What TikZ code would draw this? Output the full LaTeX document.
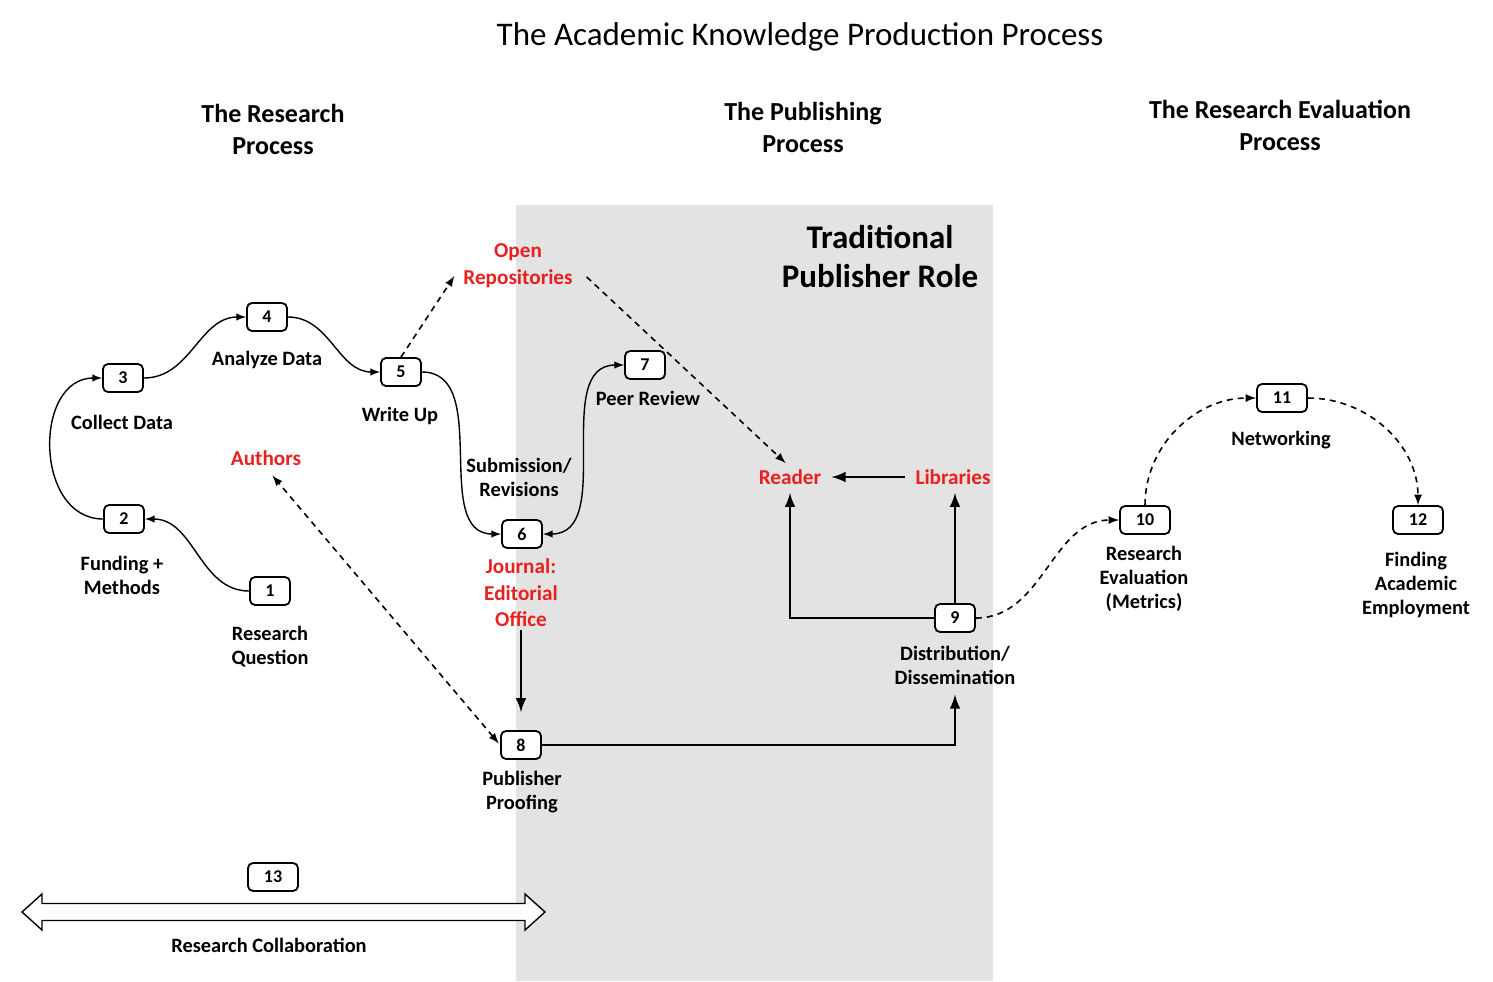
\documentclass[tikz,border=0pt]{standalone}
\usepackage{fontspec}
\setmainfont{Carlito}
\usetikzlibrary{positioning,arrows,calc}
\definecolor{publishergray}{HTML}{E3E3E3}
\definecolor{actorred}{HTML}{E82020}

\begin{document}
\begin{tikzpicture}[x=0.5pt, y=-0.5pt, >=latex,
  stepbox/.style={draw, rounded corners=2.5pt, fill=white, line width=0.9pt, minimum width=20pt, minimum height=14pt, inner sep=1pt, font=\bfseries\fontsize{9}{10}\selectfont},
  lbl/.style={align=center, inner sep=1pt, font=\bfseries\fontsize{10.2}{12}\selectfont},
  actor/.style={align=center, inner sep=1pt, text=actorred, font=\bfseries\fontsize{10.6}{13.3}\selectfont},
  phase/.style={align=center, font=\bfseries\fontsize{13}{16}\selectfont},
  flow/.style={->, line width=0.7pt},
  heavyflow/.style={->, line width=1.4pt},
  dashflow/.style={->, line width=0.8pt, dash pattern=on 3pt off 2.5pt}]
\useasboundingbox (0,0) rectangle (1493,981);
\fill[publishergray] (516,205) rectangle (993,981);

\node[font=\fontsize{16.5}{19}\selectfont] (title) at (800,37) {The Academic Knowledge Production Process};
\node[phase] (research) at (273,129) {The Research\\Process};
\node[phase] (publishing) at (803,127) {The Publishing\\Process};
\node[phase] (evaluation) at (1280,125) {The Research Evaluation\\Process};
\node[align=center, font=\bfseries\fontsize{16.5}{19.5}\selectfont] (role) at (880,257) {Traditional\\Publisher Role};

\node[stepbox] (s1) at (270,591) {1};
\node[stepbox] (s2) at (124,519) {2};
\node[stepbox] (s3) at (123,378) {3};
\node[stepbox] (s4) at (267,317) {4};
\node[stepbox] (s5) at (401,372) {5};
\node[stepbox] (s6) at (522,534) {6};
\node[stepbox] (s7) at (645,365) {7};
\node[stepbox] (s8) at (521,745) {8};
\node[stepbox] (s9) at (955,618) {9};
\node[stepbox, minimum width=25pt] (s10) at (1145,520) {10};
\node[stepbox, minimum width=25pt] (s11) at (1282,398) {11};
\node[stepbox, minimum width=25pt] (s12) at (1418,520) {12};
\node[stepbox, minimum width=25pt] (s13) at (273,877) {13};

\node[lbl] (l1) at (270,647) {Research\\Question};
\node[lbl] (l2) at (122,575) {Funding +\\Methods};
\node[lbl] (l3) at (122,422) {Collect Data};
\node[lbl] (l4) at (267,360) {Analyze Data};
\node[lbl] (l5) at (400,416) {Write Up};
\node[lbl] (lsub) at (519,477) {Submission/\\Revisions};
\node[lbl] (l7) at (648,398) {Peer Review};
\node[actor] (l6) at (521,593) {Journal:\\Editorial\\Office};
\node[lbl] (l8) at (522,792) {Publisher\\Proofing};
\node[lbl] (l9) at (955,665) {Distribution/\\Dissemination};
\node[lbl] (l10) at (1144,579) {Research\\Evaluation\\(Metrics)};
\node[lbl] (l11) at (1281,440) {Networking};
\node[lbl] (l12) at (1416,585) {Finding\\Academic\\Employment};
\node[lbl] (l13) at (269,945) {Research Collaboration};

\node[actor] (authors) at (266,458) {Authors};
\node[actor] (repos) at (518,266) {Open\\Repositories};
\node[actor] (reader) at (790,477) {Reader};
\node[actor] (libraries) at (953,477) {Libraries};

\path[flow]
(s1.west) edge[out=180, in=0] (s2.east)
(s2.west) edge[out=180, in=180, looseness=1.25] (s3.west)
(s3.east) edge[out=0, in=180] (s4.west)
(s4.east) edge[out=0, in=180] (s5.west)
(s5.east) edge[out=0, in=180] (s6.west)
(s6.east) edge[<->, out=0, in=180] (s7.west);

\draw[heavyflow, shorten >=9pt] (l6.south) -- (s8.north);
\draw[heavyflow] (s8.east) -| ([yshift=-4pt]l9.south);
\draw[heavyflow] (s9.west) -| ([yshift=-3pt]reader.south);
\draw[heavyflow] (s9.north) -- ([yshift=-3pt]s9.north |- libraries.south);
\draw[heavyflow, shorten <=4pt, shorten >=4pt] (libraries.west) -- (reader.east);

\path[dashflow]
(s5.north) edge[shorten >=6pt] (repos.west)
(repos.east) edge[shorten <=8pt, shorten >=3pt] (reader.north)
(s8.west) edge[<->, shorten <=1pt, shorten >=5pt] (authors.south)
(s9.east) edge[out=0, in=180] (s10.west)
(s10.north) edge[out=90, in=180] (s11.west)
(s11.east) edge[out=0, in=90] (s12.north);

\draw[line width=0.7pt, fill=white] (22,912) -- (42,894) -- (42,903.5) -- (525,903.5) -- (525,894) -- (545,912) -- (525,930) -- (525,920.5) -- (42,920.5) -- (42,930) -- cycle;
\end{tikzpicture}
\end{document}
